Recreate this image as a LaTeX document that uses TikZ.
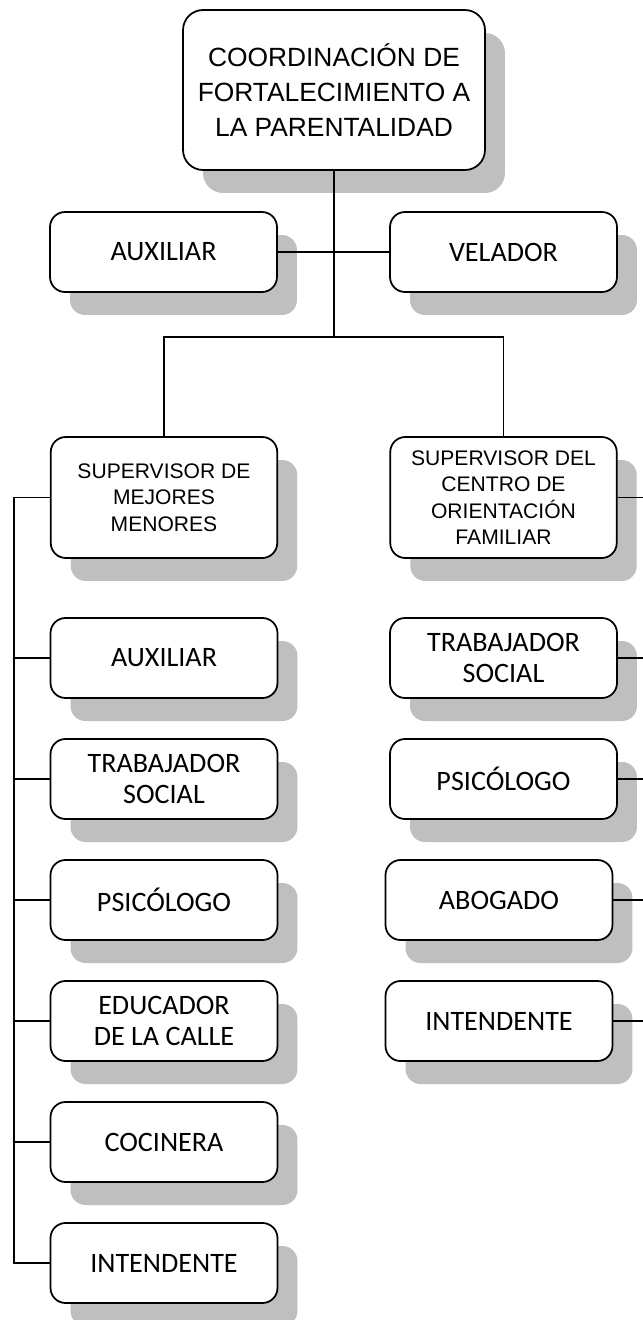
\documentclass[tikz,border=0pt]{standalone}
\usepackage{fontspec}
\setmainfont{Liberation Sans}
\newfontfamily\calib{Carlito}
\usetikzlibrary{positioning,shadows}

\begin{document}
\begin{tikzpicture}[x=0.02cm,y=-0.02cm,
                    box/.style={rectangle,draw=black,line width=1pt,fill=white,align=center,
                                drop shadow={shadow xshift=0.4cm,shadow yshift=-0.46cm,fill=black!25,opacity=1}},
                    head/.style={box,rounded corners=0.4cm,minimum width=6.04cm,minimum height=3.2cm,
                                 font=\fontsize{15}{19.8}\selectfont},
                    boss/.style={box,rounded corners=0.3cm,minimum width=4.53cm,minimum height=2.42cm,
                                 font=\fontsize{12}{15}\selectfont},
                    staff/.style={box,rounded corners=0.3cm,minimum width=4.54cm,minimum height=1.6cm,
                                  font=\calib\fontsize{16}{18}\selectfont},
                    link/.style={draw=black,line width=0.8pt}
                ]
                    \useasboundingbox (0,0) rectangle (643,1320);
                    \fill[white] (0,0) rectangle (643,1320);
                    \clip (0,0) rectangle (643,1320);

                    \node[head] (coord) at (334,90) {COORDINACIÓN DE\\FORTALECIMIENTO A\\LA PARENTALIDAD};
                    \node[staff] (aux) at (163.5,252) {AUXILIAR};
                    \node[staff] (vel) at (503.5,252) {VELADOR};
                    \node[boss] (supm) at (164,497.5) {SUPERVISOR DE\\MEJORES\\MENORES};
                    \node[boss] (supc) at (503.5,497.5) {SUPERVISOR DEL\\CENTRO DE\\ORIENTACIÓN\\FAMILIAR};

                    \coordinate (bar) at (334,337);
                    \coordinate (ltop) at (14,497.5);
                    \coordinate (rtop) at (648,497.5);

                    \draw[link] (coord.south) -- (bar);
                    \draw[link] (supm.north) |- (bar) -| (supc.north);
                    \draw[link] (aux.east) -- (vel.west);

                    % left branch
                    \foreach \n/\txt/\y in {laux/AUXILIAR/658, ltra/{TRABAJADOR\\SOCIAL}/779,
                                            lpsi/PSICÓLOGO/900, ledu/{EDUCADOR\\DE LA CALLE}/1021,
                                            lcoc/COCINERA/1142, lint/INTENDENTE/1263}
                        {
                        \node[staff] (\n) at (164,\y) {\txt};
                        \draw[link] (\n.west) -- (\n.west -| ltop);
                    }
                    \draw[link] (supm.west) -- (ltop) |- (lint.west);

                    % right branch
                    \node[staff] (rtra) at (503.5,658) {TRABAJADOR\\SOCIAL};
                    \node[staff] (rpsi) at (503.5,779) {PSICÓLOGO};
                    \node[staff] (rabo) at (499,900) {ABOGADO};
                    \node[staff] (rint) at (499,1021) {INTENDENTE};
                    \foreach \n in {rtra,rpsi,rabo}
                        \draw[link] (\n.east) -- (\n.east -| rtop);
                    \draw[link] (supc.east) -- (rtop) |- (rint.east);
                \end{tikzpicture}
\end{document}
